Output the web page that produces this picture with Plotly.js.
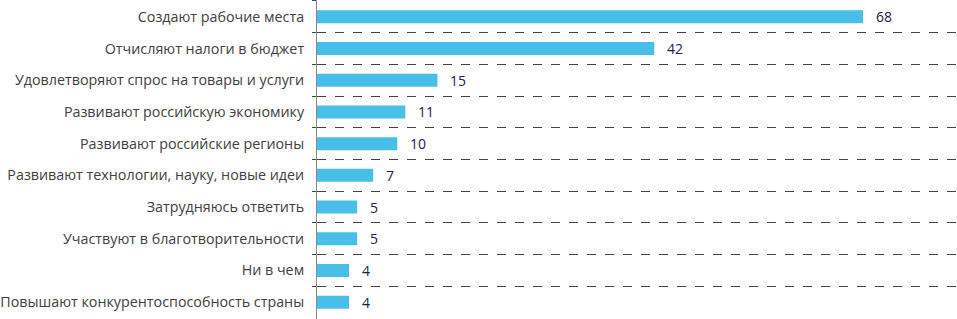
<!DOCTYPE html>
<html>
<head>
<meta charset="utf-8">
<script src="https://cdn.plot.ly/plotly-3.0.1.min.js"></script>
<style>html,body{margin:0;padding:0;background:#fff;}#chart{width:957px;height:319px;}</style>
</head>
<body>
<div id="chart"></div>
<script>
var categories = [
  "Создают рабочие места",
  "Отчисляют налоги в бюджет",
  "Удовлетворяют спрос на товары и услуги",
  "Развивают российскую экономику",
  "Развивают российские регионы",
  "Развивают технологии, науку, новые идеи",
  "Затрудняюсь ответить",
  "Участвуют в благотворительности",
  "Ни в чем",
  "Повышают конкурентоспособность страны"
];
var values = [68, 42, 15, 11, 10, 7, 5, 5, 4, 4];

var annotations = values.map(function(v, i){
  return {x: v, y: categories[i], xref: 'x', yref: 'y', text: String(v),
    showarrow: false, xanchor: 'left', xshift: 11,
    font: {family: 'Open Sans, sans-serif', size: 14, color: '#1d2152'}};
});

Plotly.newPlot('chart', [{
  type: 'bar', orientation: 'h',
  x: values, y: categories,
  marker: {color: '#48bfe8'},
  hoverinfo: 'none'
}], {
  width: 957, height: 319,
  margin: {l: 317, r: 0, t: 0, b: 0},
  paper_bgcolor: '#fff', plot_bgcolor: '#fff',
  bargap: 0.59,
  showlegend: false,
  font: {family: 'Open Sans, sans-serif', size: 14, color: '#404040'},
  xaxis: {range: [0, 79.7], showgrid: false, showticklabels: false, zeroline: false, showline: false, ticks: ''},
  yaxis: {type: 'category', range: [9.53, -0.53], tickson: 'boundaries',
    showgrid: true, gridcolor: '#444', griddash: 'dash', gridwidth: 1,
    showline: true, linecolor: '#8a8a8a', linewidth: 1,
    ticks: 'outside', ticklen: 4, tickcolor: '#444',
    ticklabelstandoff: 9,
    tickfont: {family: 'Open Sans, sans-serif', size: 14.3, color: '#404040'}},
  annotations: annotations
}, {staticPlot: true});
</script>
</body>
</html>
